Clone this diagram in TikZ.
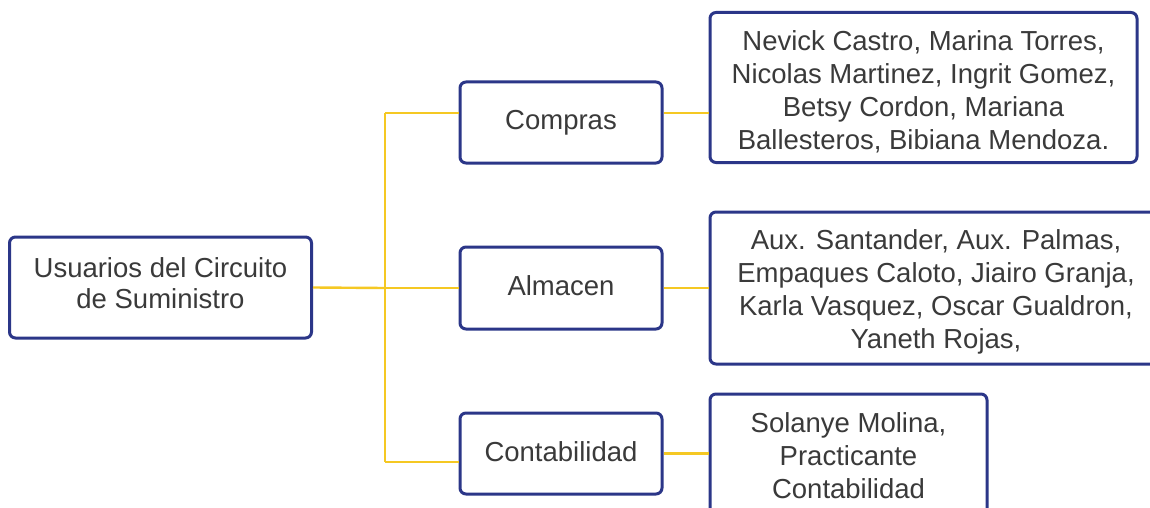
\documentclass[tikz,border=0pt]{standalone}
\usepackage{fontspec}
\setmainfont{Liberation Sans}
\definecolor{navy}{HTML}{2B3688}
\definecolor{gold}{HTML}{F5C823}
\definecolor{txt}{HTML}{3A3A3A}
\tikzset{
  box/.style={draw=navy, line width=3pt, rounded corners=6pt, fill=white,
    align=center, text=txt, inner sep=0pt,
    font=\fontsize{27.5pt}{33pt}\selectfont},
  boxtext/.style={align=center, text=txt, inner sep=0pt,
    font=\fontsize{27.5pt}{33pt}\selectfont},
  link/.style={draw=gold, line width=2.4pt}
}
\begin{document}
\begin{tikzpicture}[x=1pt,y=-1pt]
\useasboundingbox (0,0) rectangle (1150,508);
\clip (0,0) rectangle (1150,508);
\fill[white] (0,0) rectangle (1150,508);
\coordinate (t) at (385,288);
\coordinate (tc) at (385,113);
\coordinate (tb) at (385,462);
\node[box, minimum width=302pt, minimum height=101pt] (root) at (160.5,287.5) {};
\node[boxtext, font=\fontsize{27.5pt}{31pt}\selectfont] (roott) at ([yshift=4pt]root.center) {Usuarios del Circuito\\de Suministro};
\node[box, minimum width=202pt, minimum height=81pt] (compras) at (561,122.5) {Compras};
\node[box, minimum width=202pt, minimum height=82pt] (almacen) at (561,288) {};
\node[boxtext] (almacent) at ([yshift=2pt]almacen.center) {Almacen};
\node[box, minimum width=202pt, minimum height=81pt] (conta) at (561,453.5) {};
\node[boxtext] (contat) at ([yshift=1.5pt]conta.center) {Contabilidad};
\node[box, minimum width=427pt, minimum height=150pt] (d1) at (923.5,87.5) {};
\node[boxtext] (d1t) at ([yshift=-4.5pt]d1.center) {Nevick Castro, Marina Torres,\\Nicolas Martinez, Ingrit Gomez,\\Betsy Cordon, Mariana\\Ballesteros, Bibiana Mendoza.};
\node[box, minimum width=452pt, minimum height=152pt] (d2) at (936,288) {};
\node[boxtext] (d2t) at ([yshift=-3.5pt]d2.center) {Aux. Santander, Aux. Palmas,\\Empaques Caloto, Jiairo Granja,\\Karla Vasquez, Oscar Gualdron,\\Yaneth Rojas,};
\node[box, minimum width=277pt, minimum height=124pt] (d3) at (848.5,456) {Solanye Molina,\\Practicante\\Contabilidad};
\path[link] (root.east) -- (t);
\path[link] (tc) -- (tb);
\path[link] (tc) -- (compras.west |- tc);
\path[link] (t) -- (almacen.west);
\path[link] (tb) -- (conta.west |- tb);
\path[link] (compras.east |- tc) -- (d1.west |- tc);
\path[link] (almacen.east) -- (d2.west |- almacen.east);
\path[link] (conta.east) -- (d3.west |- conta.east);
\end{tikzpicture}
\end{document}
